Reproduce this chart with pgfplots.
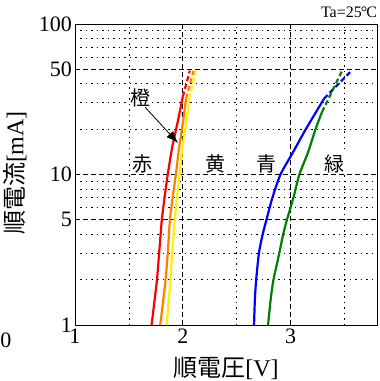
\documentclass[border=0pt]{standalone}
\usepackage{fontspec}
\setmainfont{Liberation Serif}
\newfontfamily\cjk{Noto Sans CJK JP}
\usepackage{pgfplots}
\pgfplotsset{compat=1.18}
\usetikzlibrary{arrows.meta}
\begin{document}
\begin{tikzpicture}
\begin{axis}[
  scale only axis, width=302pt, height=301pt,
  at={(0,0)}, anchor=south west,
  xmin=1, xmax=3.8, ymode=log, ymin=1, ymax=100,
  xtick={1,2,3}, xticklabels={1,2,3},
  minor xtick={1.5,2.5,3.5},
  ytick={1,5,10,50,100}, yticklabels={1,5,10,50,100},
  minor ytick={2,3,4,6,7,8,9,20,30,40,60,70,80,90},
  major tick length=0pt, minor tick length=0pt,
  grid=both,
  major grid style={black, line width=0.8pt, dash pattern=on 5pt off 3pt},
  minor grid style={black, line width=0.8pt, dash pattern=on 1.5pt off 4pt},
  axis line style={black, line width=0.9pt},
  tick label style={font=\fontsize{22}{24}\selectfont},
  yticklabel style={inner sep=3pt},
  /pgf/number format/assume math mode=true,
]
% red
\addplot[red, line width=2.2pt, smooth, tension=0.4] coordinates {(1.71,1) (1.74,1.5) (1.76,2) (1.78,3) (1.805,5) (1.83,7) (1.86,10) (1.90,15) (1.95,22) (2.00,33)};
\addplot[red, line width=2.2pt, dash pattern=on 5pt off 3pt] coordinates {(2.00,33) (2.065,49)};
% orange
\addplot[orange, line width=2.2pt, smooth, tension=0.4] coordinates {(1.79,1) (1.82,1.5) (1.84,2) (1.86,3) (1.88,5) (1.905,7) (1.935,10) (1.965,15) (2.00,22) (2.03,32)};
\addplot[orange, line width=2.2pt, dash pattern=on 5pt off 3pt] coordinates {(2.03,32) (2.10,49)};
% yellow
\addplot[yellow, line width=2.2pt, smooth, tension=0.4] coordinates {(1.85,1) (1.87,1.5) (1.885,2) (1.90,3) (1.925,5) (1.945,7) (1.97,10) (1.995,15) (2.03,22) (2.06,32)};
\addplot[yellow, line width=2.2pt, dash pattern=on 5pt off 3pt] coordinates {(2.06,32) (2.12,49)};
% blue
\addplot[blue, line width=2.2pt, smooth, tension=0.4] coordinates {(2.66,1) (2.668,1.5) (2.68,2) (2.705,3) (2.74,4) (2.775,5) (2.83,7) (2.905,10) (3.02,14) (3.14,20) (3.31,32)};
\addplot[blue, line width=2.2pt, dash pattern=on 5pt off 3pt] coordinates {(3.31,32) (3.57,49.5)};
% green
\addplot[black!50!green, line width=2.2pt, smooth, tension=0.4] coordinates {(2.79,1) (2.815,1.5) (2.84,2) (2.885,2.8) (2.93,4) (2.965,5) (3.025,7) (3.08,10) (3.16,14) (3.23,20) (3.29,26)};
\addplot[black!50!green, line width=2.2pt, dash pattern=on 5pt off 3pt] coordinates {(3.29,26) (3.48,49.5)};
% labels
\node[font=\cjk\fontsize{20}{22}\selectfont, fill=white, inner sep=1pt] at (axis cs:1.63,11.8) {赤};
\node[font=\cjk\fontsize{20}{22}\selectfont, fill=white, inner sep=1pt] at (axis cs:2.30,11.8) {黄};
\node[font=\cjk\fontsize{20}{22}\selectfont, fill=white, inner sep=1pt] at (axis cs:2.78,11.8) {青};
\node[font=\cjk\fontsize{20}{22}\selectfont, fill=white, inner sep=1pt] at (axis cs:3.41,11.8) {緑};
\node[font=\cjk\fontsize{20}{22}\selectfont, fill=white, inner sep=1pt] at (axis cs:1.61,32.5) {橙};
\draw[black, line width=0.8pt, -{Latex[length=12pt, width=9pt]}] (axis cs:1.65,28) -- (axis cs:1.955,16.2);
\end{axis}
\node[font=\fontsize{24}{26}\selectfont, rotate=90] at (-60pt,152pt) {{\cjk 順電流}[mA]};
\node[font=\fontsize{24}{26}\selectfont] at (151pt,-43pt) {{\cjk 順電圧}[V]};
\node[font=\fontsize{22}{24}\selectfont] at (-69pt,-15pt) {0};
\node[font=\fontsize{16}{18}\selectfont] at (274pt,313pt) {Ta=25\kern-1pt°\kern-1pt C};
\pgfresetboundingbox
\path[use as bounding box] (-75pt,-56pt) rectangle (305pt,325pt);
\end{tikzpicture}
\end{document}
